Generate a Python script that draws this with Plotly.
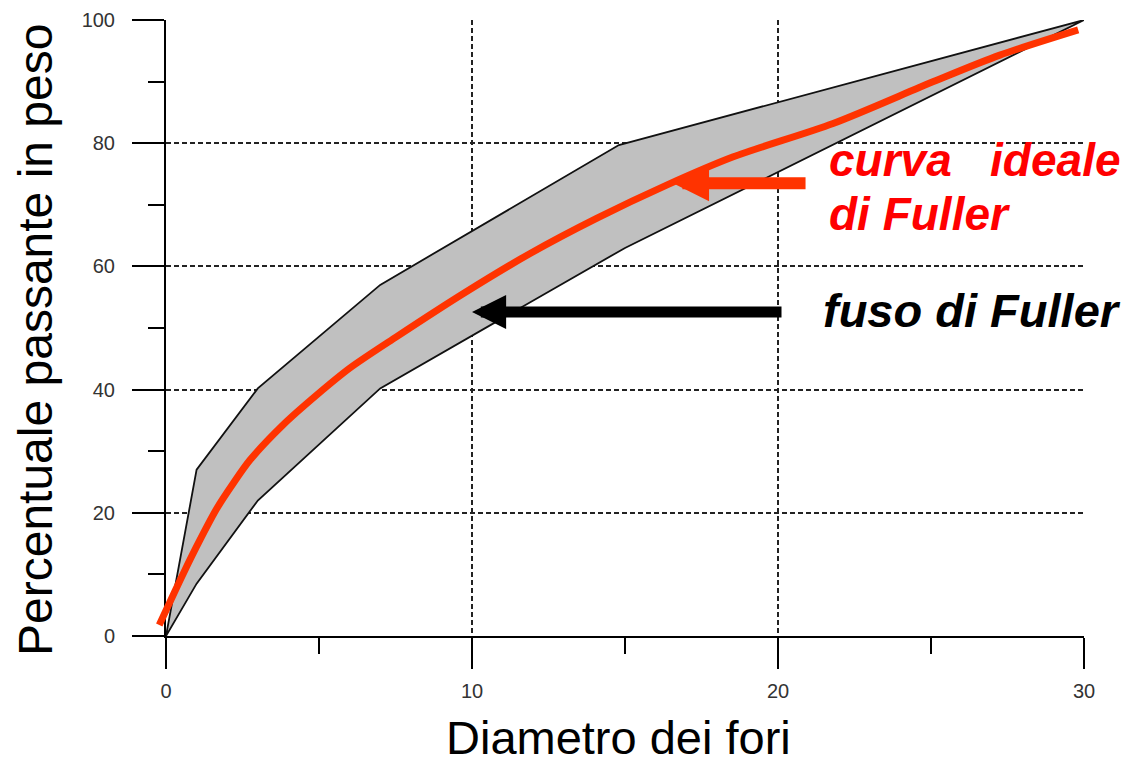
import plotly.graph_objects as go

# ---------------- data ----------------
upper_x = [0, 1, 3, 7, 14.8, 30]
upper_y = [0, 27, 40.2, 57, 79.7, 100]
lower_x = [0, 1, 3, 7, 15, 30]
lower_y = [0, 8.5, 22, 40.2, 63, 100]

fuller_x = [-0.22, 0.57, 1.11, 1.66, 2.2, 2.75, 3.83, 4.92, 6.01, 7.54, 9.72,
            11.9, 14.07, 16.36, 18.54, 21.8, 25.08, 27.25, 29.81]
fuller_y = [1.8, 10.2, 15.6, 20.7, 24.8, 28.6, 34.3, 39.1, 43.5, 48.6, 55.6,
            62.1, 67.8, 73.2, 77.8, 83.2, 90.0, 94.3, 98.4]

x_ticks = [0, 10, 20, 30]
y_ticks = [0, 20, 40, 60, 80, 100]

x_title = "Diametro dei fori"
y_title = "Percentuale passante in peso"
label_ideal_1 = "curva\u00a0\u00a0\u00a0ideale"
label_ideal_2 = "di Fuller"
label_fuso = "fuso di Fuller"

# ---------------- layout geometry ----------------
OFF = 8                      # page body margin of the html page
FW, FH = 1132 - OFF, 763 - OFF
L, R, T, B = 132, 32, 2, 107
W = FW - L - R
H = FH - T - B
# target window pixels of the axes -> figure pixels
x0px, x30px = 166 - OFF, 1084 - OFF
y0px, y100px = 636 - OFF, 20 - OFF
bottom_px = FH - B

xdom = [(x0px - L) / W, (x30px - L) / W]
ydom = [(bottom_px - y0px) / H, (bottom_px - y100px) / H]
ux = 30 / (x30px - x0px)
uy = 100 / (y0px - y100px)
x2range = [0 - (x0px - L) * ux, 30 + (FW - R - x30px) * ux]
y2range = [0 - (bottom_px - y0px) * uy, 100 + (y100px - T) * uy]


def px(xp, yp):
    """window pixel -> paper coords"""
    return (xp - OFF - L) / W, (bottom_px - (yp - OFF)) / H


fig = go.Figure()

# band (fuso)
fig.add_trace(go.Scatter(
    x=upper_x + lower_x[::-1], y=upper_y + lower_y[::-1],
    mode="lines", fill="toself", fillcolor="#C0C0C0",
    line=dict(color="#111111", width=1.8), hoverinfo="skip", showlegend=False,
))

# ideal Fuller curve on overlay axes (not clipped at x=0)
fig.add_trace(go.Scatter(
    x=fuller_x, y=fuller_y, xaxis="x2", yaxis="y2",
    mode="lines", line=dict(color="#FF3300", width=7, shape="spline", smoothing=0.8),
    showlegend=False,
))

tickfont = dict(family="Liberation Sans Narrow, Arial Narrow, Liberation Sans, Arial",
                size=20, color="#333333")

fig.update_layout(
    width=FW, height=FH,
    margin=dict(l=L, r=R, t=T, b=B, autoexpand=False),
    paper_bgcolor="white", plot_bgcolor="rgba(0,0,0,0)",
    showlegend=False,
    xaxis=dict(
        domain=xdom, range=[0, 30], tickmode="array", tickvals=x_ticks,
        ticktext=[str(v) for v in x_ticks],
        showline=True, linecolor="black", linewidth=2,
        ticks="outside", ticklen=31, tickwidth=2, tickcolor="black",
        ticklabelstandoff=5,
        showgrid=True, gridcolor="#222222", gridwidth=1.5, griddash="5px,3px",
        zeroline=False, tickfont=tickfont,
        minor=dict(dtick=5, tick0=0, ticks="outside", ticklen=16, tickwidth=2,
                   tickcolor="black", showgrid=False),
        anchor="y", fixedrange=True, automargin=False,
    ),
    yaxis=dict(
        domain=ydom, range=[0, 100], tickmode="array", tickvals=y_ticks,
        ticktext=[str(v) for v in y_ticks],
        showline=True, linecolor="black", linewidth=2,
        ticks="outside", ticklen=32, tickwidth=2, tickcolor="black",
        ticklabelstandoff=13,
        showgrid=True, gridcolor="#222222", gridwidth=1.5, griddash="5px,3px",
        zeroline=False, tickfont=tickfont,
        minor=dict(dtick=10, tick0=0, ticks="outside", ticklen=16, tickwidth=2,
                   tickcolor="black", showgrid=False),
        anchor="x", fixedrange=True, automargin=False,
    ),
    xaxis2=dict(domain=[0, 1], range=x2range, visible=False, anchor="y2",
                fixedrange=True),
    yaxis2=dict(domain=[0, 1], range=y2range, visible=False, anchor="x2",
                fixedrange=True),
)

annos = []
# arrows
annos.append(dict(x=16.57, y=73.5, xref="x", yref="y", ax=134, ay=0, text="",
                  showarrow=True, arrowhead=2, arrowsize=0.6, arrowwidth=12,
                  arrowcolor="#FF3300"))
annos.append(dict(x=10.0, y=52.6, xref="x", yref="y", ax=311, ay=0, text="",
                  showarrow=True, arrowhead=2, arrowsize=0.62, arrowwidth=11,
                  arrowcolor="black"))

lblfont = dict(family="Liberation Sans, Arial", size=46)
xa, ya = px(827, 160)
annos.append(dict(x=xa, y=ya, xref="paper", yref="paper", text="<b><i>%s</i></b>" % label_ideal_1,
                  showarrow=False, xanchor="left", yanchor="middle",
                  font=dict(lblfont, color="#FF0000")))
xa, ya = px(827, 214)
annos.append(dict(x=xa, y=ya, xref="paper", yref="paper", text="<b><i>%s</i></b>" % label_ideal_2,
                  showarrow=False, xanchor="left", yanchor="middle",
                  font=dict(lblfont, color="#FF0000")))
xa, ya = px(821, 310)
annos.append(dict(x=xa, y=ya, xref="paper", yref="paper", text="<b><i>%s</i></b>" % label_fuso,
                  showarrow=False, xanchor="left", yanchor="middle",
                  font=dict(family="Liberation Sans, Arial", size=47, color="black")))

# axis titles
xa, ya = px(618, 738)
annos.append(dict(x=xa, y=ya, xref="paper", yref="paper", text=x_title,
                  showarrow=False, xanchor="center", yanchor="middle",
                  font=dict(family="Liberation Sans, Arial", size=47, color="black")))
xa, ya = px(35, 340)
annos.append(dict(x=xa, y=ya, xref="paper", yref="paper", text=y_title,
                  showarrow=False, xanchor="center", yanchor="middle", textangle=-90,
                  font=dict(family="Liberation Sans, Arial", size=48, color="black")))

fig.update_layout(annotations=annos)

fig.write_html("out.html")
